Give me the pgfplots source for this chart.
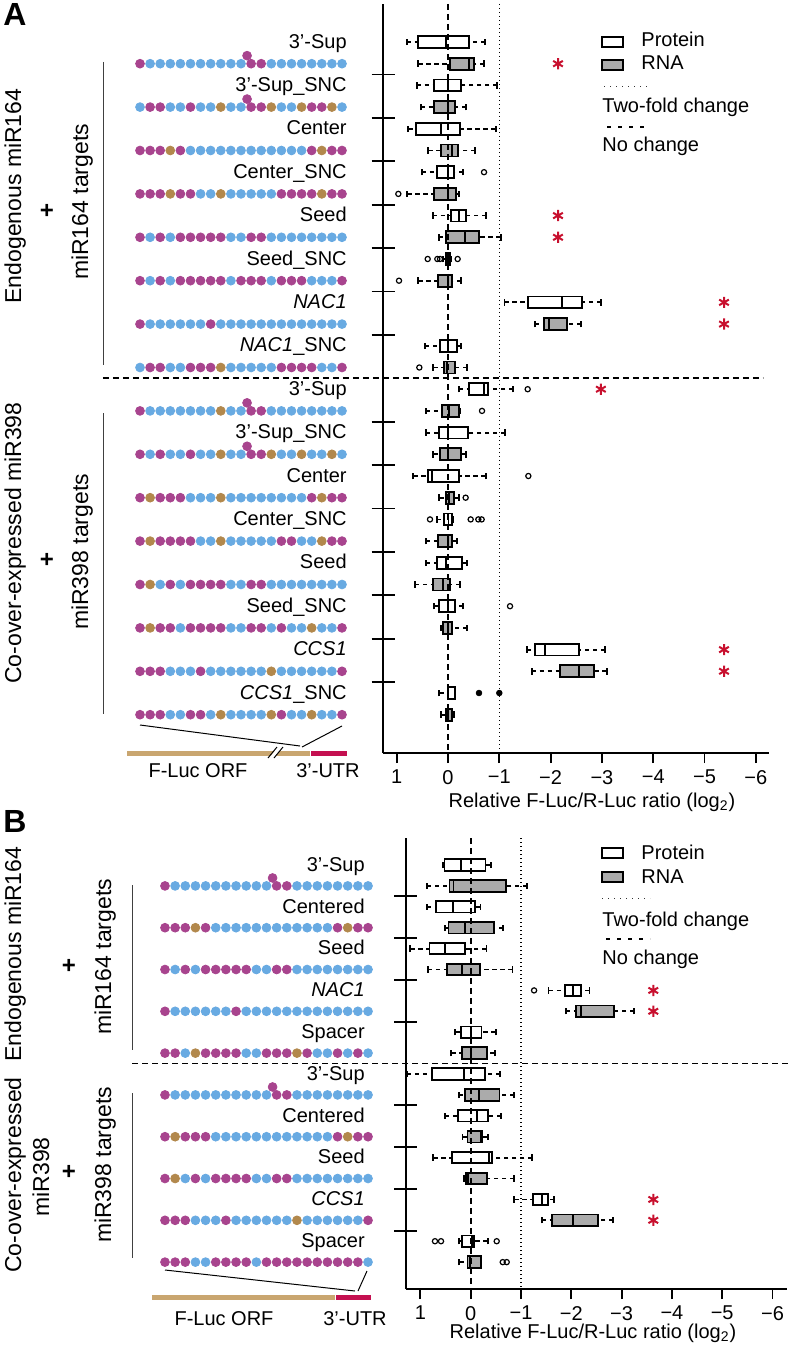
\documentclass[border=0pt]{standalone}
\usepackage{fontspec}
\setmainfont{Liberation Sans}
\usepackage{pgfplots}
\pgfplotsset{compat=1.18}
\usepgfplotslibrary{statistics}
\definecolor{cM}{RGB}{168,68,142}
\definecolor{cB}{RGB}{104,170,226}
\definecolor{cO}{RGB}{178,136,76}
\definecolor{cTan}{RGB}{201,166,112}
\definecolor{cUTR}{RGB}{196,16,80}
\definecolor{cStar}{RGB}{200,16,46}
\newcommand{\fsa}{\fontsize{10}{12}\selectfont}
\newcommand{\fsb}{\fontsize{11.5}{13.8}\selectfont}
\newcommand{\BX}[7]{\addplot[#1, boxplot prepared={draw position=#2, lower whisker=#3, lower quartile=#4, median=#5, upper quartile=#6, upper whisker=#7}] coordinates {};}
\tikzset{lab/.style={anchor=base east, inner sep=0pt, font=\fsa},
         txt/.style={inner sep=0pt, font=\fsa}}
\pgfplotsset{
 bxP/.style={black, line width=0.9pt, solid, boxplot/every box/.style={draw=black, fill=white, line width=0.9pt, solid}},
 bxR/.style={black, line width=0.9pt, solid, boxplot/every box/.style={draw=black, fill=black!33, line width=0.9pt, solid}},
 boxax/.style={
   scale only axis, clip=false,
   axis x line=bottom, axis y line=left,
   axis line style={-, line width=0.9pt, black},
   every outer x axis line/.append style={-},
   every outer y axis line/.append style={-},
   xtick align=outside,
   major tick length=5pt,
   tick style={line width=0.9pt, black},
   ytick=\empty,
   extra y tick labels={},
   extra y tick style={major tick length=11.5pt, ytick align=center, tick style={line width=0.9pt, black}},
   xtick={-1,0,1,2,3,4,5,6},
   xticklabels={1,0,−1,−2,−3,−4,−5,−6},
   xticklabel style={font=\fsa},
   boxplot/draw direction=x,
   boxplot/box extend=0.55,
   boxplot/whisker extend=0.3,
   boxplot/every whisker/.style={dash pattern=on 2.2pt off 1.8pt, line width=0.9pt},
   boxplot/every median/.style={line width=0.9pt, solid},
   boxplot/draw/lower whisker/.code={%
     \draw[/pgfplots/boxplot/every whisker/.try]
       (boxplot box cs:\pgfplotsboxplotvalue{lower whisker},0.5) --
       (boxplot box cs:\pgfplotsboxplotvalue{lower quartile},0.5);
     \draw[solid,line width=0.9pt,black]
       (boxplot whisker cs:\pgfplotsboxplotvalue{lower whisker},0) --
       (boxplot whisker cs:\pgfplotsboxplotvalue{lower whisker},1);
   },
   boxplot/draw/upper whisker/.code={%
     \draw[/pgfplots/boxplot/every whisker/.try]
       (boxplot box cs:\pgfplotsboxplotvalue{upper whisker},0.5) --
       (boxplot box cs:\pgfplotsboxplotvalue{upper quartile},0.5);
     \draw[solid,line width=0.9pt,black]
       (boxplot whisker cs:\pgfplotsboxplotvalue{upper whisker},0) --
       (boxplot whisker cs:\pgfplotsboxplotvalue{upper whisker},1);
   },
 },
 dotax/.style={scale only axis, hide axis, clip=false, xmin=-0.5, xmax=20.5},
 dots/.style={scatter, only marks, mark=*, mark size=2.2pt, point meta=explicit symbolic,
   scatter/classes={m={cM}, b={cB}, o={cO}}},
}
\begin{document}
\begin{tikzpicture}
\path[use as bounding box] (0,0) rectangle (396.5pt,-674pt);

% ================= Panel A: boxplots =================
\begin{axis}[boxax, at={(191.5pt,-2pt)}, anchor=north west, width=193pt, height=374.5pt,
  xmin=-1.267, xmax=6.257, ymin=-32.765, ymax=1.751,
  extra y ticks={-1.5,-3.5,-5.5,-7.5,-9.5,-11.5,-13.5,-17.5,-19.5,-21.5,-23.5,-25.5,-27.5,-29.5}]
\BX{bxP}{0}{-0.806}{-0.578}{-0.045}{0.416}{0.721}
\BX{bxR}{-1}{-0.578}{0.033}{0.416}{0.514}{0.708}
\BX{bxP}{-2}{-0.61}{-0.273}{0}{0.247}{0.962}
\BX{bxR}{-3}{-0.533}{-0.273}{0}{0.13}{0.351}
\BX{bxP}{-4}{-0.773}{-0.624}{-0.13}{0.234}{0.93}
\BX{bxR}{-5}{-0.383}{-0.143}{0.078}{0.195}{0.533}
\BX{bxP}{-6}{-0.513}{-0.208}{0}{0.11}{0.299}
\BX{bxR}{-7}{-0.793}{-0.273}{0}{0.162}{0.208}
\BX{bxP}{-8}{-0.299}{0.065}{0.208}{0.357}{0.741}
\BX{bxR}{-9}{-0.175}{-0.045}{0.331}{0.611}{1.026}
\BX{bxP}{-10}{-0.1}{-0.035}{0.005}{0.045}{0.07}
\BX{bxR}{-11}{-0.578}{-0.201}{0}{0.084}{0.26}
\BX{bxP}{-12}{1.1}{1.566}{2.229}{2.606}{2.983}
\BX{bxR}{-13}{1.696}{1.871}{1.969}{2.326}{2.593}
\BX{bxP}{-14}{-0.448}{-0.156}{0}{0.182}{0.247}
\BX{bxR}{-15}{-0.286}{-0.078}{-0.02}{0.143}{0.37}
\BX{bxP}{-16}{0.214}{0.416}{0.70}{0.786}{1.274}
\BX{bxR}{-17}{-0.429}{-0.11}{0.013}{0.208}{0.234}
\BX{bxP}{-18}{-0.429}{-0.175}{0}{0.39}{1.118}
\BX{bxR}{-19}{-0.286}{-0.156}{0}{0.247}{0.344}
\BX{bxP}{-20}{-0.676}{-0.383}{-0.305}{0.208}{0.734}
\BX{bxR}{-21}{-0.169}{-0.045}{0.026}{0.117}{0.214}
\BX{bxP}{-22}{-0.221}{-0.078}{0.01}{0.084}{0.09}
\BX{bxR}{-23}{-0.429}{-0.195}{0}{0.084}{0.175}
\BX{bxP}{-24}{-0.429}{-0.208}{-0.045}{0.267}{0.37}
\BX{bxR}{-25}{-0.643}{-0.299}{-0.104}{0.032}{0.234}
\BX{bxP}{-26}{-0.273}{-0.175}{0}{0.13}{0.299}
\BX{bxR}{-27}{-0.13}{-0.097}{0}{0.084}{0.37}
\BX{bxP}{-28}{1.533}{1.696}{1.891}{2.56}{3.06}
\BX{bxR}{-29}{1.631}{2.183}{2.553}{2.846}{3.093}
\BX{bxP}{-30}{-0.169}{0}{0.01}{0.143}{0.143}
\BX{bxR}{-31}{-0.13}{-0.045}{0}{0.084}{0.11}
% outliers
\addplot[only marks, mark=o, mark size=1.3pt, line width=0.6pt, black] coordinates {
 (0.702,-6) (-0.968,-7) (-0.396,-10) (-0.208,-10) (-0.156,-10) (0.188,-10) (-0.955,-11)
 (-0.559,-15) (1.553,-16) (0.663,-17) (1.566,-20) (0.344,-21) (-0.351,-22) (0.442,-22)
 (0.591,-22) (0.656,-22) (1.209,-26)};
\addplot[only marks, mark=*, mark size=1.4pt, black] coordinates {(0.604,-30) (1.0,-30)};
% reference lines
\addplot[black, line width=0.7pt, dash pattern=on 0.6pt off 1.4pt] coordinates {(1,1.751) (1,-32.765)};
\addplot[black, line width=0.9pt, dash pattern=on 3pt off 2pt] coordinates {(0,1.751) (0,-32.765)};
\addplot[black, line width=0.9pt, dash pattern=on 3pt off 2pt] coordinates {(-6.725,-15.5) (6.14,-15.5)};
% significance
\addplot[only marks, mark=asterisk, mark size=2.8pt, line width=1pt, cStar] coordinates {
 (2.144,-1) (2.144,-8) (2.144,-9) (5.38,-12) (5.38,-13) (2.98,-16) (5.38,-28) (5.38,-29)};
\end{axis}

% ================= Panel A: target sequences =================
\begin{axis}[dotax, at={(67.475pt,-2pt)}, anchor=north west, width=106.05pt, height=374.5pt,
  ymin=-32.765, ymax=1.751]
\addplot[dots] coordinates {
(0,-1)[m](1,-1)[b](2,-1)[b](3,-1)[b](4,-1)[b](5,-1)[b](6,-1)[b](7,-1)[b](8,-1)[b](9,-1)[b](10,-1)[b](11,-1)[m](12,-1)[m](13,-1)[b](14,-1)[b](15,-1)[b](16,-1)[b](17,-1)[b](18,-1)[b](19,-1)[b](20,-1)[b](10.6,-0.63)[m]
(0,-3)[b](1,-3)[m](2,-3)[m](3,-3)[b](4,-3)[b](5,-3)[m](6,-3)[b](7,-3)[b](8,-3)[o](9,-3)[b](10,-3)[b](11,-3)[m](12,-3)[m](13,-3)[o](14,-3)[b](15,-3)[b](16,-3)[o](17,-3)[m](18,-3)[m](19,-3)[o](20,-3)[b](10.6,-2.63)[m]
(0,-5)[m](1,-5)[m](2,-5)[m](3,-5)[o](4,-5)[m](5,-5)[b](6,-5)[b](7,-5)[b](8,-5)[b](9,-5)[b](10,-5)[b](11,-5)[b](12,-5)[b](13,-5)[b](14,-5)[b](15,-5)[b](16,-5)[b](17,-5)[m](18,-5)[o](19,-5)[m](20,-5)[m]
(0,-7)[m](1,-7)[m](2,-7)[m](3,-7)[o](4,-7)[m](5,-7)[m](6,-7)[b](7,-7)[b](8,-7)[o](9,-7)[b](10,-7)[b](11,-7)[b](12,-7)[b](13,-7)[b](14,-7)[m](15,-7)[m](16,-7)[m](17,-7)[m](18,-7)[o](19,-7)[m](20,-7)[m]
(0,-9)[m](1,-9)[b](2,-9)[m](3,-9)[b](4,-9)[m](5,-9)[m](6,-9)[m](7,-9)[m](8,-9)[m](9,-9)[b](10,-9)[b](11,-9)[m](12,-9)[m](13,-9)[b](14,-9)[b](15,-9)[b](16,-9)[b](17,-9)[b](18,-9)[b](19,-9)[b](20,-9)[b]
(0,-11)[m](1,-11)[b](2,-11)[m](3,-11)[b](4,-11)[m](5,-11)[m](6,-11)[m](7,-11)[m](8,-11)[m](9,-11)[b](10,-11)[m](11,-11)[m](12,-11)[m](13,-11)[b](14,-11)[m](15,-11)[m](16,-11)[m](17,-11)[b](18,-11)[b](19,-11)[b](20,-11)[m]
(0,-13)[m](1,-13)[b](2,-13)[b](3,-13)[b](4,-13)[b](5,-13)[b](6,-13)[b](7,-13)[m](8,-13)[b](9,-13)[b](10,-13)[b](11,-13)[b](12,-13)[b](13,-13)[b](14,-13)[b](15,-13)[b](16,-13)[b](17,-13)[b](18,-13)[b](19,-13)[b](20,-13)[b]
(0,-15)[b](1,-15)[m](2,-15)[m](3,-15)[b](4,-15)[b](5,-15)[m](6,-15)[m](7,-15)[m](8,-15)[o](9,-15)[b](10,-15)[b](11,-15)[b](12,-15)[b](13,-15)[b](14,-15)[m](15,-15)[m](16,-15)[m](17,-15)[m](18,-15)[b](19,-15)[b](20,-15)[m]
(0,-17)[m](1,-17)[b](2,-17)[b](3,-17)[b](4,-17)[b](5,-17)[b](6,-17)[b](7,-17)[b](8,-17)[o](9,-17)[b](10,-17)[b](11,-17)[m](12,-17)[m](13,-17)[b](14,-17)[b](15,-17)[b](16,-17)[b](17,-17)[b](18,-17)[b](19,-17)[b](20,-17)[b](10.6,-16.63)[m]
(0,-19)[m](1,-19)[b](2,-19)[m](3,-19)[b](4,-19)[b](5,-19)[m](6,-19)[b](7,-19)[b](8,-19)[o](9,-19)[b](10,-19)[b](11,-19)[m](12,-19)[m](13,-19)[o](14,-19)[b](15,-19)[b](16,-19)[o](17,-19)[b](18,-19)[b](19,-19)[o](20,-19)[b](10.6,-18.63)[m]
(0,-21)[m](1,-21)[o](2,-21)[m](3,-21)[m](4,-21)[m](5,-21)[b](6,-21)[b](7,-21)[b](8,-21)[o](9,-21)[b](10,-21)[b](11,-21)[b](12,-21)[b](13,-21)[b](14,-21)[b](15,-21)[b](16,-21)[b](17,-21)[m](18,-21)[o](19,-21)[m](20,-21)[m]
(0,-23)[m](1,-23)[o](2,-23)[m](3,-23)[m](4,-23)[m](5,-23)[m](6,-23)[b](7,-23)[b](8,-23)[o](9,-23)[b](10,-23)[b](11,-23)[b](12,-23)[b](13,-23)[b](14,-23)[m](15,-23)[m](16,-23)[b](17,-23)[b](18,-23)[o](19,-23)[m](20,-23)[m]
(0,-25)[m](1,-25)[o](2,-25)[b](3,-25)[m](4,-25)[b](5,-25)[m](6,-25)[m](7,-25)[m](8,-25)[m](9,-25)[b](10,-25)[b](11,-25)[m](12,-25)[m](13,-25)[b](14,-25)[b](15,-25)[b](16,-25)[b](17,-25)[b](18,-25)[b](19,-25)[b](20,-25)[b]
(0,-27)[m](1,-27)[o](2,-27)[m](3,-27)[m](4,-27)[b](5,-27)[m](6,-27)[m](7,-27)[m](8,-27)[m](9,-27)[b](10,-27)[b](11,-27)[m](12,-27)[m](13,-27)[b](14,-27)[m](15,-27)[b](16,-27)[b](17,-27)[o](18,-27)[b](19,-27)[b](20,-27)[m]
(0,-29)[m](1,-29)[m](2,-29)[m](3,-29)[b](4,-29)[b](5,-29)[b](6,-29)[m](7,-29)[b](8,-29)[b](9,-29)[b](10,-29)[b](11,-29)[b](12,-29)[b](13,-29)[o](14,-29)[b](15,-29)[b](16,-29)[b](17,-29)[b](18,-29)[b](19,-29)[b](20,-29)[m]
(0,-31)[m](1,-31)[m](2,-31)[m](3,-31)[b](4,-31)[b](5,-31)[m](6,-31)[m](7,-31)[b](8,-31)[o](9,-31)[b](10,-31)[b](11,-31)[b](12,-31)[b](13,-31)[o](14,-31)[m](15,-31)[b](16,-31)[b](17,-31)[o](18,-31)[b](19,-31)[b](20,-31)[m]
};
\node[lab] at (axis cs:20.5,-0.28) {3’-Sup};
\node[lab] at (axis cs:20.5,-2.28) {3’-Sup\_SNC};
\node[lab] at (axis cs:20.5,-4.28) {Center};
\node[lab] at (axis cs:20.5,-6.28) {Center\_SNC};
\node[lab] at (axis cs:20.5,-8.28) {Seed};
\node[lab] at (axis cs:20.5,-10.28) {Seed\_SNC};
\node[lab] at (axis cs:20.5,-12.28) {\textit{NAC1}};
\node[lab] at (axis cs:20.5,-14.28) {\textit{NAC1}\_SNC};
\node[lab] at (axis cs:20.5,-16.28) {3’-Sup};
\node[lab] at (axis cs:20.5,-18.28) {3’-Sup\_SNC};
\node[lab] at (axis cs:20.5,-20.28) {Center};
\node[lab] at (axis cs:20.5,-22.28) {Center\_SNC};
\node[lab] at (axis cs:20.5,-24.28) {Seed};
\node[lab] at (axis cs:20.5,-26.28) {Seed\_SNC};
\node[lab] at (axis cs:20.5,-28.28) {\textit{CCS1}};
\node[lab] at (axis cs:20.5,-30.28) {\textit{CCS1}\_SNC};
\end{axis}

% ================= Panel B: boxplots =================
\begin{axis}[boxax, at={(202.85pt,-419pt)}, anchor=north west, width=190.5pt, height=225.5pt,
  xmin=-1.292, xmax=6.282, ymin=-20.287, ymax=1.292,
  extra y ticks={-1.5,-3.5,-5.5,-7.5,-11.5,-13.5,-15.5,-17.5}]
\BX{bxP}{0}{-0.553}{-0.52}{-0.2}{0.293}{0.4}
\BX{bxR}{-1}{-0.867}{-0.42}{-0.34}{0.7}{1.127}
\BX{bxP}{-2}{-0.867}{-0.687}{-0.353}{0.093}{0.193}
\BX{bxR}{-3}{-0.507}{-0.44}{-0.12}{0.46}{0.647}
\BX{bxP}{-4}{-1.2}{-0.82}{-0.507}{-0.107}{0.313}
\BX{bxR}{-5}{-0.853}{-0.473}{-0.167}{0.18}{0.833}
\BX{bxP}{-6}{1.547}{1.88}{2.033}{2.193}{2.36}
\BX{bxR}{-7}{1.893}{2.093}{2.193}{2.847}{3.247}
\BX{bxP}{-8}{-0.307}{-0.2}{0}{0.213}{0.5}
\BX{bxR}{-9}{-0.387}{-0.167}{0}{0.327}{0.48}
\BX{bxP}{-10}{-1.27}{-0.776}{-0.133}{0.284}{0.583}
\BX{bxR}{-11}{-0.233}{-0.115}{0.165}{0.573}{0.861}
\BX{bxP}{-12}{-0.511}{-0.259}{0.118}{0.337}{0.603}
\BX{bxR}{-13}{-0.162}{-0.064}{0.2}{0.231}{0.337}
\BX{bxP}{-14}{-0.743}{-0.365}{0.364}{0.417}{1.225}
\BX{bxR}{-15}{-0.133}{-0.093}{-0.047}{0.317}{0.861}
\BX{bxP}{-16}{0.868}{1.246}{1.411}{1.544}{1.663}
\BX{bxR}{-17}{1.411}{1.61}{2.028}{2.538}{2.836}
\BX{bxP}{-18}{-0.233}{-0.179}{0.02}{0.072}{0.337}
\BX{bxR}{-19}{-0.226}{-0.064}{-0.014}{0.198}{0.205}
\addplot[only marks, mark=o, mark size=1.3pt, line width=0.6pt, black] coordinates {
 (1.26,-6) (-0.71,-18) (-0.59,-18) (0.517,-18) (0.637,-19) (0.716,-19)};
\addplot[black, line width=0.7pt, dash pattern=on 0.6pt off 1.4pt] coordinates {(1,1.292) (1,-20.287)};
\addplot[black, line width=0.9pt, dash pattern=on 3pt off 2pt] coordinates {(0,1.292) (0,-20.287)};
\addplot[black, line width=0.9pt, dash pattern=on 3pt off 2pt] coordinates {(-6.73,-9.5) (6.3,-9.5)};
\addplot[only marks, mark=asterisk, mark size=2.8pt, line width=1pt, cStar] coordinates {
 (3.63,-6) (3.63,-7) (3.63,-16) (3.63,-17)};
\end{axis}

% ================= Panel B: target sequences =================
\begin{axis}[dotax, at={(79.95pt,-419pt)}, anchor=north west, width=106.6pt, height=225.5pt,
  ymin=-20.287, ymax=1.292]
\addplot[dots] coordinates {
(0,-1)[m](1,-1)[b](2,-1)[b](3,-1)[b](4,-1)[b](5,-1)[b](6,-1)[b](7,-1)[b](8,-1)[b](9,-1)[b](10,-1)[b](11,-1)[m](12,-1)[m](13,-1)[b](14,-1)[b](15,-1)[b](16,-1)[b](17,-1)[b](18,-1)[b](19,-1)[b](20,-1)[b](10.6,-0.62)[m]
(0,-3)[m](1,-3)[m](2,-3)[m](3,-3)[o](4,-3)[m](5,-3)[b](6,-3)[b](7,-3)[b](8,-3)[b](9,-3)[b](10,-3)[b](11,-3)[b](12,-3)[b](13,-3)[b](14,-3)[b](15,-3)[b](16,-3)[b](17,-3)[m](18,-3)[o](19,-3)[m](20,-3)[m]
(0,-5)[m](1,-5)[b](2,-5)[m](3,-5)[b](4,-5)[m](5,-5)[m](6,-5)[m](7,-5)[m](8,-5)[m](9,-5)[b](10,-5)[b](11,-5)[m](12,-5)[m](13,-5)[b](14,-5)[b](15,-5)[b](16,-5)[b](17,-5)[b](18,-5)[b](19,-5)[b](20,-5)[b]
(0,-7)[m](1,-7)[b](2,-7)[b](3,-7)[b](4,-7)[b](5,-7)[b](6,-7)[b](7,-7)[m](8,-7)[b](9,-7)[b](10,-7)[b](11,-7)[b](12,-7)[b](13,-7)[b](14,-7)[b](15,-7)[b](16,-7)[b](17,-7)[b](18,-7)[b](19,-7)[b](20,-7)[b]
(0,-9)[m](1,-9)[m](2,-9)[b](3,-9)[o](4,-9)[m](5,-9)[m](6,-9)[m](7,-9)[m](8,-9)[b](9,-9)[b](10,-9)[m](11,-9)[m](12,-9)[m](13,-9)[o](14,-9)[m](15,-9)[b](16,-9)[b](17,-9)[m](18,-9)[b](19,-9)[m](20,-9)[b]
(0,-11)[m](1,-11)[b](2,-11)[b](3,-11)[b](4,-11)[b](5,-11)[b](6,-11)[b](7,-11)[b](8,-11)[b](9,-11)[b](10,-11)[b](11,-11)[m](12,-11)[m](13,-11)[b](14,-11)[b](15,-11)[b](16,-11)[b](17,-11)[b](18,-11)[b](19,-11)[b](20,-11)[b](10.6,-10.62)[m]
(0,-13)[m](1,-13)[o](2,-13)[m](3,-13)[m](4,-13)[m](5,-13)[b](6,-13)[b](7,-13)[b](8,-13)[b](9,-13)[b](10,-13)[b](11,-13)[b](12,-13)[b](13,-13)[b](14,-13)[b](15,-13)[b](16,-13)[b](17,-13)[m](18,-13)[o](19,-13)[m](20,-13)[m]
(0,-15)[m](1,-15)[o](2,-15)[b](3,-15)[m](4,-15)[b](5,-15)[m](6,-15)[m](7,-15)[m](8,-15)[m](9,-15)[b](10,-15)[b](11,-15)[m](12,-15)[m](13,-15)[b](14,-15)[b](15,-15)[b](16,-15)[b](17,-15)[b](18,-15)[b](19,-15)[b](20,-15)[b]
(0,-17)[m](1,-17)[m](2,-17)[m](3,-17)[b](4,-17)[b](5,-17)[b](6,-17)[m](7,-17)[b](8,-17)[b](9,-17)[b](10,-17)[b](11,-17)[b](12,-17)[b](13,-17)[o](14,-17)[b](15,-17)[b](16,-17)[b](17,-17)[b](18,-17)[b](19,-17)[b](20,-17)[m]
(0,-19)[m](1,-19)[m](2,-19)[m](3,-19)[b](4,-19)[b](5,-19)[m](6,-19)[m](7,-19)[m](8,-19)[m](9,-19)[b](10,-19)[m](11,-19)[m](12,-19)[m](13,-19)[m](14,-19)[m](15,-19)[m](16,-19)[m](17,-19)[m](18,-19)[m](19,-19)[m](20,-19)[b]
};
\node[lab] at (axis cs:19.71,-0.3) {3’-Sup};
\node[lab] at (axis cs:19.71,-2.3) {Centered};
\node[lab] at (axis cs:19.71,-4.3) {Seed};
\node[lab] at (axis cs:19.71,-6.3) {\textit{NAC1}};
\node[lab] at (axis cs:19.71,-8.3) {Spacer};
\node[lab] at (axis cs:19.71,-10.3) {3’-Sup};
\node[lab] at (axis cs:19.71,-12.3) {Centered};
\node[lab] at (axis cs:19.71,-14.3) {Seed};
\node[lab] at (axis cs:19.71,-16.3) {\textit{CCS1}};
\node[lab] at (axis cs:19.71,-18.3) {Spacer};
\end{axis}

% ================= annotations (pixel grid, y downwards) =================
\begin{scope}[x=0.5pt,y=-0.5pt]
 % panel letters
 \node[anchor=base west, inner sep=0pt, font=\bfseries\fontsize{16}{16}\selectfont] at (3,26) {A};
 \node[anchor=base west, inner sep=0pt, font=\bfseries\fontsize{16}{16}\selectfont] at (3,832) {B};
 % side labels A
 \node[rotate=90, anchor=base, inner sep=0pt, font=\fsb] at (21,196) {Endogenous miR164};
 \node[rotate=90, anchor=base, inner sep=0pt, font=\fsb] at (88,202) {miR164 targets};
 \node[rotate=90, anchor=base, inner sep=0pt, font=\fsb] at (21,543) {Co-over-expressed miR398};
 \node[rotate=90, anchor=base, inner sep=0pt, font=\fsb] at (88,552) {miR398 targets};
 \node[inner sep=0pt, font=\bfseries\fontsize{12}{12}\selectfont] at (47,211) {+};
 \node[inner sep=0pt, font=\bfseries\fontsize{12}{12}\selectfont] at (47,560) {+};
 \draw[black!75, line width=0.5pt] (103,62) -- (103,365);
 \draw[black!75, line width=0.5pt] (103,413) -- (103,714);
 % side labels B
 \node[rotate=90, anchor=base, inner sep=0pt, font=\fsb] at (21,954) {Endogenous miR164};
 \node[rotate=90, anchor=base, inner sep=0pt, font=\fsb] at (111,957) {miR164 targets};
 \node[rotate=90, anchor=base, inner sep=0pt, font=\fsb] at (21,1175) {Co-over-expressed};
 \node[rotate=90, anchor=base, inner sep=0pt, font=\fsb] at (49,1177) {miR398};
 \node[rotate=90, anchor=base, inner sep=0pt, font=\fsb] at (111,1165) {miR398 targets};
 \node[inner sep=0pt, font=\bfseries\fontsize{12}{12}\selectfont] at (69,966) {+};
 \node[inner sep=0pt, font=\bfseries\fontsize{12}{12}\selectfont] at (69,1172) {+};
 \draw[black!75, line width=0.5pt] (132,885) -- (132,1050);
 \draw[black!75, line width=0.5pt] (132,1093) -- (132,1258);
 % gene schematic A
 \draw[black, line width=0.5pt] (140,725) -- (300,746);
 \draw[black, line width=0.5pt] (342,726) -- (302,747);
 \fill[cTan] (127,750.5) rectangle (310,755.5);
 \fill[cUTR] (311,750.5) rectangle (347,755.5);
 \fill[white] (269,758) -- (274,758) -- (283,747) -- (278,747) -- cycle;
 \draw[black, line width=0.5pt] (268,758) -- (277,747);
 \draw[black, line width=0.5pt] (274,758) -- (283,747);
 \node[txt, anchor=base] at (198,777) {F-Luc ORF};
 \node[txt, anchor=base] at (328,777) {3’-UTR};
 % gene schematic B
 \draw[black, line width=0.5pt] (165,1270) -- (355,1291);
 \draw[black, line width=0.5pt] (367,1271) -- (358,1291);
 \fill[cTan] (152,1294.5) rectangle (335,1299.5);
 \fill[cUTR] (336,1294.5) rectangle (371,1299.5);
 \node[txt, anchor=base] at (224,1325) {F-Luc ORF};
 \node[txt, anchor=base] at (355,1325) {3’-UTR};
 % axis titles
 \node[txt, anchor=base] at (592,807) {Relative F-Luc/R-Luc ratio (log\textsubscript{2})};
 \node[txt, anchor=base] at (593,1338) {Relative F-Luc/R-Luc ratio (log\textsubscript{2})};
 % legend A
 \draw[line width=0.9pt] (602,37) rectangle (623,47);
 \draw[line width=0.9pt, fill=black!33] (602,60) rectangle (623,70);
 \node[txt, anchor=base west] at (641,46.7) {Protein};
 \node[txt, anchor=base west] at (641,70) {RNA};
 \draw[black!80, line width=0.5pt, dash pattern=on 0.5pt off 2.5pt] (604,87) -- (650,87);
 \node[txt, anchor=base west] at (602,113) {Two-fold change};
 \draw[black, line width=0.6pt, dash pattern=on 2pt off 3.5pt] (607,127) -- (650,127);
 \node[txt, anchor=base west] at (602,152) {No change};
 % legend B
 \draw[line width=0.9pt] (602,848) rectangle (623,858);
 \draw[line width=0.9pt, fill=black!33] (602,872) rectangle (623,882);
 \node[txt, anchor=base west] at (641,859) {Protein};
 \node[txt, anchor=base west] at (641,883) {RNA};
 \draw[black!80, line width=0.5pt, dash pattern=on 0.5pt off 2.5pt] (602,898) -- (650,898);
 \node[txt, anchor=base west] at (602,926) {Two-fold change};
 \draw[black, line width=0.6pt, dash pattern=on 2pt off 3.5pt] (606,939) -- (650,939);
 \node[txt, anchor=base west] at (602,964) {No change};
\end{scope}
\end{tikzpicture}
\end{document}
